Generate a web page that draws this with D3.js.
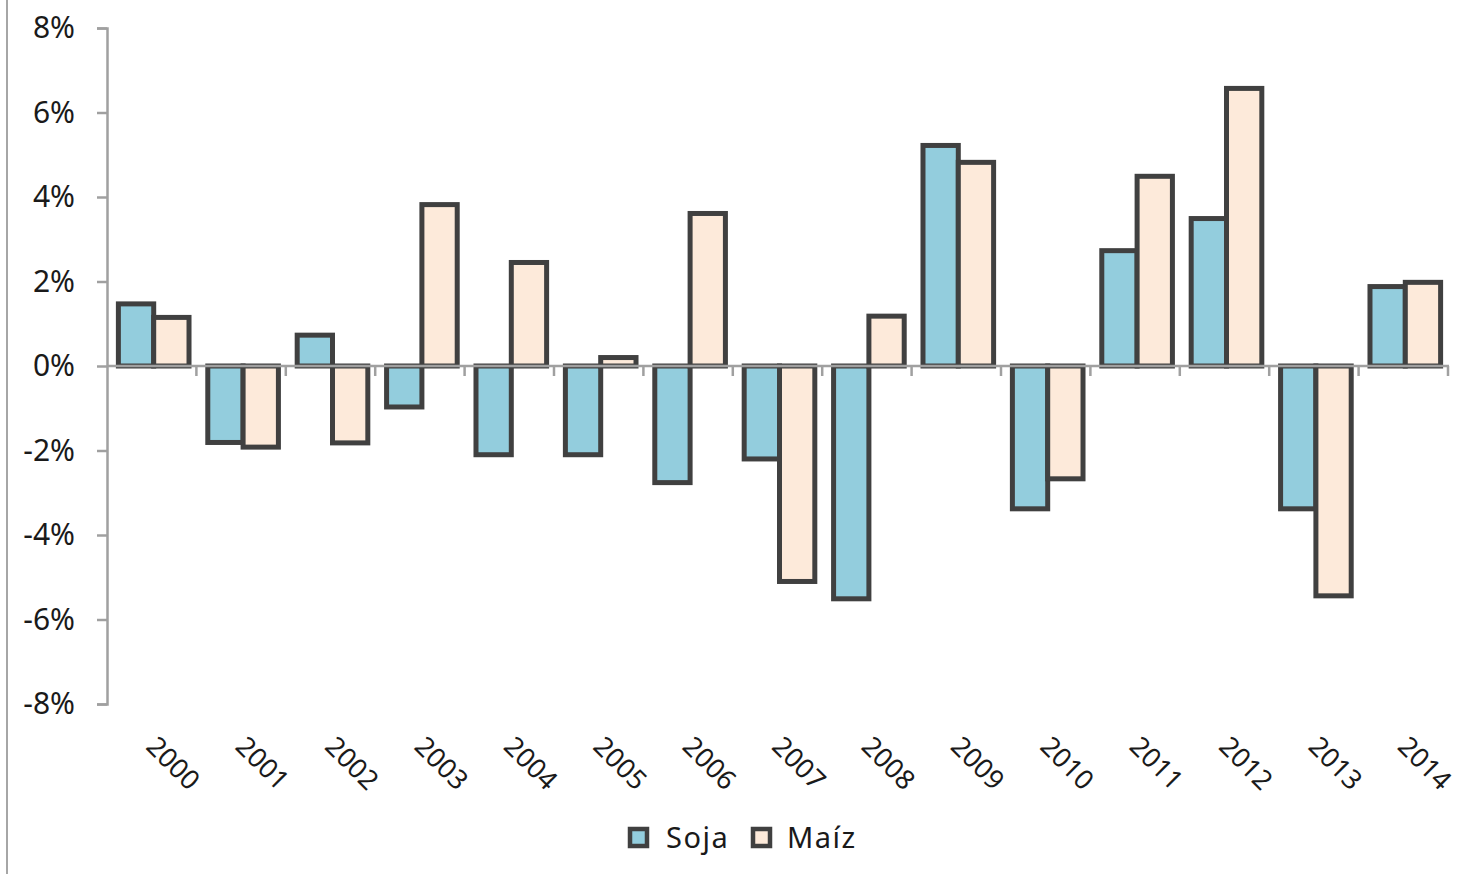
<!DOCTYPE html>
<html>
<head>
<meta charset="utf-8">
<script src="https://cdn.jsdelivr.net/npm/d3@7"></script>
<style>
  html, body { margin: 0; padding: 0; background: #ffffff; }
  svg { display: block; }
</style>
</head>
<body>
<svg id="chart" width="1471" height="874"></svg>
<script>
const years = ["2000","2001","2002","2003","2004","2005","2006","2007","2008","2009","2010","2011","2012","2013","2014"];
const soja  = [1.47, -1.81, 0.73, -0.97, -2.10, -2.10, -2.76, -2.20, -5.51, 5.22, -3.38, 2.73, 3.49, -3.38, 1.88];
const maiz  = [1.15, -1.92, -1.82, 3.82, 2.45, 0.20, 3.61, -5.10, 1.18, 4.82, -2.67, 4.49, 6.57, -5.44, 1.98];
const seriesNames = ["Soja", "Maíz"];
const seriesColors = ["#93CDDD", "#FDEADA"];
const yTicks = [-8, -6, -4, -2, 0, 2, 4, 6, 8];

(function () {
const svg = d3.select("#chart");
const W = 1471, H = 874;
const mLeft = 107, mRight = 1448, mTop = 28, mBottom = 704;

// left frame border
svg.append("line")
  .attr("x1", 7).attr("x2", 7).attr("y1", 0).attr("y2", H)
  .attr("stroke", "#a6a6a6").attr("stroke-width", 2);

const y = d3.scaleLinear().domain([-8, 8]).range([mBottom, mTop]);
const x0 = d3.scaleBand().domain(years).range([mLeft, mRight]).paddingInner(0).paddingOuter(0);
const groupW = x0.bandwidth() * 0.79;
const x1 = d3.scaleBand().domain(seriesNames).range([0, groupW]).padding(0);

const data = years.map((yr, i) => ({ year: yr, vals: [soja[i], maiz[i]] }));

const gBars = svg.append("g");
data.forEach(d => {
  const gx = x0(d.year) + (x0.bandwidth() - groupW) / 2 + 2;
  d.vals.forEach((v, j) => {
    gBars.append("rect")
      .attr("x", gx + x1(seriesNames[j]))
      .attr("width", x1.bandwidth())
      .attr("y", y(Math.max(0, v)))
      .attr("height", Math.abs(y(v) - y(0)))
      .attr("fill", seriesColors[j])
      .attr("stroke", "#404040")
      .attr("stroke-width", 5);
  });
});

// Y axis
const yAxis = d3.axisLeft(y).tickValues(yTicks).tickSize(10).tickPadding(22)
  .tickFormat(d => d + "%");
const gy = svg.append("g").attr("transform", `translate(${mLeft},0)`).call(yAxis);
gy.select(".domain").attr("stroke", "#a0a0a0").attr("stroke-width", 2.5);
gy.selectAll(".tick line").attr("stroke", "#a0a0a0").attr("stroke-width", 2.5);
gy.selectAll(".tick text")
  .attr("fill", "#1a1a1a")
  .style("font-family", "'Noto Sans', 'DejaVu Sans', sans-serif")
  .style("font-size", "30px");

// X axis at zero
const boundaries = years.map(yr => x0(yr)).concat([mRight]);
svg.append("line")
  .attr("x1", mLeft).attr("x2", mRight + 1)
  .attr("y1", y(0)).attr("y2", y(0))
  .attr("stroke", "#a0a0a0").attr("stroke-width", 2.5);
svg.append("g").selectAll("line").data(boundaries.slice(1)).join("line")
  .attr("x1", d => d).attr("x2", d => d)
  .attr("y1", y(0)).attr("y2", y(0) + 10)
  .attr("stroke", "#a0a0a0").attr("stroke-width", 2.5);

// X labels (rotated)
svg.append("g").selectAll("text").data(years).join("text")
  .attr("transform", d => `translate(${x0(d) + x0.bandwidth() / 2 - 7},748) rotate(45)`)
  .attr("text-anchor", "start")
  .attr("fill", "#1a1a1a")
  .style("font-family", "'Noto Sans', 'DejaVu Sans', sans-serif")
  .style("font-size", "27px")
  .text(d => d);

// Legend
const legendItems = [
  { name: seriesNames[0], color: seriesColors[0], x: 628, tx: 666 },
  { name: seriesNames[1], color: seriesColors[1], x: 751, tx: 787 }
];
const gl = svg.append("g");
legendItems.forEach(it => {
  gl.append("rect")
    .attr("x", it.x + 2).attr("y", 829)
    .attr("width", 17).attr("height", 17)
    .attr("fill", it.color)
    .attr("stroke", "#404040").attr("stroke-width", 4.5);
  gl.append("text")
    .attr("x", it.tx).attr("y", 848)
    .attr("fill", "#1a1a1a")
    .style("font-family", "'Noto Sans', 'DejaVu Sans', sans-serif")
    .style("font-size", "29px")
    .style("letter-spacing", "1.5px")
    .text(it.name);
});
})();
</script>
</body>
</html>
